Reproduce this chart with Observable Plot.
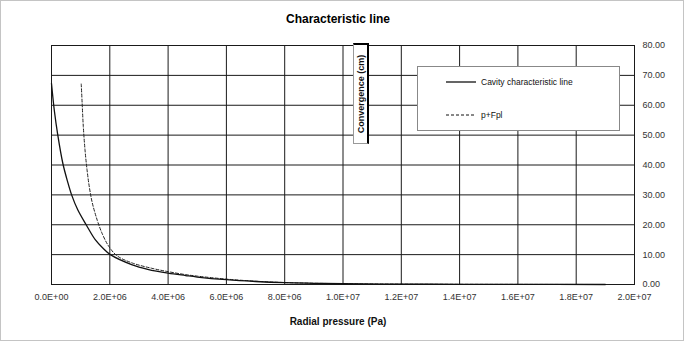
<!DOCTYPE html>
<html>
<head>
<meta charset="utf-8">
<script src="https://cdn.jsdelivr.net/npm/d3@7"></script>
<script src="https://cdn.jsdelivr.net/npm/@observablehq/plot@0.6"></script>
<style>
  body { margin: 0; background: #fff; font-family: "Liberation Sans", Arial, sans-serif; }
  #wrap { position: relative; width: 685px; height: 345px; overflow: hidden; }
  #border { position: absolute; left: 0; top: 0; width: 682px; height: 339px; border: 1px solid #c4c4c4; pointer-events: none; }
  #title { position: absolute; left: 0; width: 676px; top: 12px; text-align: center; font-weight: bold; font-size: 12px; color: #000; }
  #xtitle { position: absolute; left: 0; width: 676px; top: 316px; text-align: center; font-weight: bold; font-size: 10px; color: #111; }
  #chart { position: absolute; left: 0; top: 36px; }
  #ybox { position: absolute; left: 353px; top: 43px; width: 13px; height: 98px; background: #fff; border: 1px solid #999; border-right: 2px solid #000; border-top: 2px solid #000; }
  #ybox span { position: absolute; left: 50%; top: 50%; transform: translate(-50%, -50%) rotate(-90deg); white-space: nowrap; font-weight: bold; font-size: 9px; color: #111; }
  #legend { position: absolute; left: 417px; top: 66px; width: 201px; height: 63px; background: #fff; border: 1px solid #888; font-size: 8.5px; color: #111; }
  #legend .row { position: absolute; left: 28px; display: flex; align-items: center; }
  #legend svg { margin-right: 5px; }
</style>
</head>
<body>
<div id="wrap">
  <div id="title">Characteristic line</div>
  <div id="chart"></div>
  <div id="xtitle">Radial pressure (Pa)</div>
  <div id="ybox"><span>Convergence (cm)</span></div>
  <div id="legend"></div>
  <div id="border"></div>
</div>
<script>
// Cavity characteristic line: radial pressure (Pa) vs convergence (cm)
const cavityP = [0, 0.1e6, 0.216e6, 0.39e6, 0.55e6, 0.69e6, 0.9e6, 1.19e6, 1.5e6, 1.75e6, 2.02e6, 2.77e6, 3.3e6, 4.0e6, 4.6e6, 5.0e6, 6.0e6, 7.0e6, 8.0e6, 9.0e6, 1.0e7, 1.2e7, 1.4e7, 1.6e7, 1.9e7];
const cavityU = [67.3, 58, 50, 40.5, 34.5, 30, 25, 20, 15, 12.3, 10, 6.6, 5.1, 3.8, 3.0, 2.5, 1.6, 1.0, 0.6, 0.4, 0.25, 0.12, 0.07, 0.04, 0.0];
// p+Fpl
const fplP = [1.02e6, 1.05e6, 1.09e6, 1.15e6, 1.22e6, 1.3e6, 1.4e6, 1.57e6, 1.74e6, 1.97e6, 2.25e6, 2.77e6, 3.45e6, 4.0e6, 4.6e6, 5.0e6, 6.0e6, 7.0e6, 8.0e6, 9.0e6, 1.0e7, 1.2e7, 1.4e7, 1.6e7, 1.9e7];
const fplU = [67.1, 61, 53, 45, 38.3, 32.5, 27.3, 21.5, 17, 12.7, 9.6, 7.2, 5.4, 4.3, 3.3, 2.8, 1.8, 1.1, 0.65, 0.42, 0.27, 0.13, 0.07, 0.04, 0.0];

const xTicks = [0, 2e6, 4e6, 6e6, 8e6, 1e7, 1.2e7, 1.4e7, 1.6e7, 1.8e7, 2e7];
const xTickLabels = ["0.0E+00", "2.0E+06", "4.0E+06", "6.0E+06", "8.0E+06", "1.0E+07", "1.2E+07", "1.4E+07", "1.6E+07", "1.8E+07", "2.0E+07"];
const yTicks = [0, 10, 20, 30, 40, 50, 60, 70, 80];
const yTickLabels = ["0.00", "10.00", "20.00", "30.00", "40.00", "50.00", "60.00", "70.00", "80.00"];

const seriesNames = ["Cavity characteristic line", "p+Fpl"];

const cavity = cavityP.map((p, i) => ({p, u: cavityU[i]}));
const fpl = fplP.map((p, i) => ({p, u: fplU[i]}));

const chart = Plot.plot({
  width: 685,
  height: 309,
  marginTop: 9,
  marginBottom: 61,
  marginLeft: 51,
  marginRight: 51,
  style: {fontFamily: "'Liberation Sans', Arial, sans-serif", fontSize: "9px", color: "#333", background: "transparent"},
  x: {domain: [0, 2e7], ticks: xTicks, tickFormat: d => xTickLabels[xTicks.indexOf(d)], tickSize: 0, tickPadding: 9, label: null},
  y: {domain: [0, 80], ticks: yTicks, tickFormat: d => yTickLabels[yTicks.indexOf(d)], tickSize: 0, tickPadding: 8, label: null, axis: "right"},
  marks: [
    Plot.ruleX(xTicks, {stroke: "#1a1a1a", strokeWidth: 1}),
    Plot.ruleY(yTicks, {stroke: "#1a1a1a", strokeWidth: 1}),
    Plot.frame({stroke: "#1a1a1a", strokeWidth: 1}),
    Plot.line(fpl, {x: "p", y: "u", stroke: "#222", strokeWidth: 1, strokeDasharray: "3,2", curve: "catmull-rom"}),
    Plot.line(cavity, {x: "p", y: "u", stroke: "#111", strokeWidth: 1.3, curve: "catmull-rom"})
  ]
});
document.getElementById("chart").appendChild(chart);

const legend = document.getElementById("legend");
const dashes = [null, "3,2"];
const tops = [9, 42];
seriesNames.forEach((name, i) => {
  const row = document.createElement("div");
  row.className = "row";
  row.style.top = tops[i] + "px";
  row.innerHTML = `<svg width="30" height="12"><line x1="0" x2="30" y1="6" y2="6" stroke="#111" stroke-width="${i ? 1 : 1.3}" ${dashes[i] ? `stroke-dasharray="${dashes[i]}"` : ""}/></svg><span>${name}</span>`;
  legend.appendChild(row);
});
</script>
</body>
</html>
